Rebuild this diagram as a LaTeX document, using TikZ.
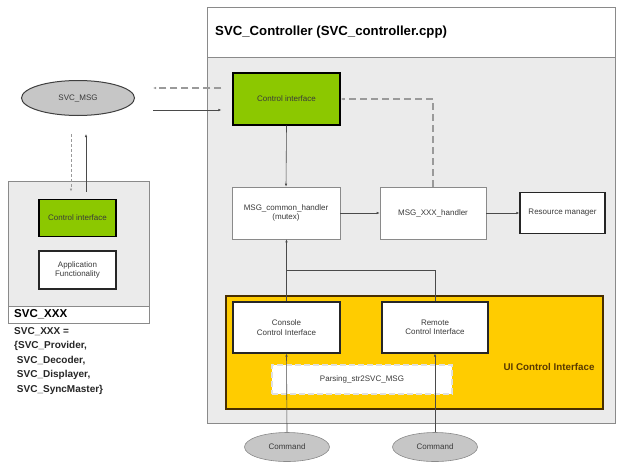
\documentclass[tikz,border=0pt]{standalone}
\usepackage{fontspec}
\setmainfont{Liberation Sans}
\usetikzlibrary{shapes.geometric,arrows.meta}
\definecolor{bodygray}{HTML}{EBEBEB}
\definecolor{framegray}{HTML}{8A8A8A}
\definecolor{cigreen}{HTML}{8CC800}
\definecolor{uiyellow}{HTML}{FFCC00}
\definecolor{ellgray}{HTML}{C6C6C6}
\definecolor{linegray}{HTML}{4A4A4A}
\definecolor{dashgray}{HTML}{9A9A9A}
\definecolor{brownish}{HTML}{5A3A00}
\definecolor{txtgray}{HTML}{3A3A3A}
\tikzset{
  smalltxt/.style={font=\fontsize{8}{9.5}\selectfont, text=txtgray, align=center},
  greenbox/.style={rectangle, draw=black, line width=1.2pt, fill=cigreen, smalltxt, inner sep=0pt},
  thickbox/.style={rectangle, draw=black!85, line width=1.2pt, fill=white, smalltxt, inner sep=0pt},
  thinbox/.style={rectangle, draw=framegray, line width=0.6pt, fill=white, smalltxt, inner sep=0pt},
  cmdell/.style={ellipse, draw=framegray, line width=0.6pt, fill=ellgray, smalltxt, inner sep=0pt},
  conn/.style={draw=linegray, line width=0.6pt, -{Latex[length=3pt,width=2.5pt]}},
  plainconn/.style={draw=linegray, line width=0.6pt},
  dashconn/.style={draw=dashgray, line width=1.1pt, dash pattern=on 7pt off 4pt, -{Latex[length=3pt,width=2.5pt]}},
}
\begin{document}
\begin{tikzpicture}[x=1pt,y=-1pt]
\useasboundingbox (0,0) rectangle (617,466);
\fill[white] (0,0) rectangle (617,466);
% controller frame
\node[rectangle, draw=framegray, line width=0.8pt, fill=bodygray, minimum width=408pt, minimum height=416pt, inner sep=0pt] (ctrl) at (411,215) {};
\node[rectangle, draw=framegray, line width=0.8pt, fill=white, minimum width=408pt, minimum height=50pt, inner sep=0pt] (ctrlhead) at (411,32) {};
\node[anchor=west, font=\bfseries\fontsize{13.2}{15}\selectfont, inner sep=0pt] (title) at (215,32) {SVC\_Controller (SVC\_controller.cpp)};
% SVC_MSG
\node[ellipse, draw=black!75, line width=1pt, fill=ellgray, minimum width=113pt, minimum height=35pt, smalltxt, inner sep=0pt] (msg) at (78,98) {SVC\_MSG};
% SVC_XXX box
\node[rectangle, draw=framegray, line width=0.8pt, fill=bodygray, minimum width=141pt, minimum height=142pt, inner sep=0pt] (xxx) at (78.5,252) {};
\node[rectangle, draw=framegray, line width=0.8pt, fill=white, minimum width=141pt, minimum height=17pt, inner sep=0pt] (xxxstrip) at (78.5,314.5) {};
\node[anchor=west, font=\bfseries\fontsize{11.5}{12}\selectfont, inner sep=0pt] (xxxlabel) at (14,314.5) {SVC\_XXX};
\node[greenbox, minimum width=77pt, minimum height=37pt] (ci2) at (77.5,218) {Control interface};
\node[thickbox, minimum width=77pt, minimum height=38pt] (app) at (77.5,270) {Application\\Functionality};
\node[anchor=north west, align=left, font=\bfseries\fontsize{10}{14.6}\selectfont, text=black!85, inner sep=0pt] (xxxdef) at (14,327)
  {SVC\_XXX =\\\{SVC\_Provider,\\\ SVC\_Decoder,\\\ SVC\_Displayer,\\\ SVC\_SyncMaster\}};
% controller internals
\node[greenbox, minimum width=107pt, minimum height=52pt] (ci) at (286.5,99) {Control interface};
\node[thinbox, minimum width=108pt, minimum height=52pt] (common) at (286,213) {MSG\_common\_handler\\(mutex)};
\node[thinbox, minimum width=106pt, minimum height=52pt] (xxxh) at (433,213) {MSG\_XXX\_handler};
\node[thickbox, minimum width=85pt, minimum height=41pt] (res) at (562.5,213) {Resource manager};
% UI control interface
\node[rectangle, draw=brownish!80!black, line width=1.3pt, fill=uiyellow, minimum width=377pt, minimum height=113pt, inner sep=0pt] (ui) at (414.5,352.5) {};
\node[thickbox, minimum width=107pt, minimum height=51pt] (console) at (286.5,327.5) {Console\\Control Interface};
\node[thickbox, minimum width=106pt, minimum height=51pt] (remote) at (435,327.5) {Remote\\Control Interface};
\node[rectangle, draw=black!12, line width=1.4pt, dash pattern=on 6pt off 3pt, fill=white, minimum width=180pt, minimum height=29pt, smalltxt, inner sep=0pt] (parsing) at (362,379.5) {Parsing\_str2SVC\_MSG};
\node[font=\bfseries\fontsize{9.8}{11}\selectfont, text=brownish, inner sep=0pt] (uilabel) at (549,367) {UI Control Interface};
% commands
\node[cmdell, minimum width=85pt, minimum height=29pt] (cmd1) at (287,447) {Command};
\node[cmdell, minimum width=85pt, minimum height=29pt] (cmd2) at (435,447) {Command};
\coordinate (join) at (286.5,270);
% connectors
\draw[dashconn] ([xshift=-11pt,yshift=11pt]ci.west) -- ([xshift=18pt,yshift=10pt]msg.east);
\draw[conn] ([xshift=18pt,yshift=-12pt]msg.east) -- ([xshift=-11pt,yshift=-11pt]ci.west);
\draw[dashconn, dash pattern=on 3pt off 2pt, line width=0.9pt] ([xshift=-7pt,yshift=-18pt]msg.south) -- ([xshift=-7.5pt,yshift=-11pt]xxx.north);
\draw[conn] ([xshift=7.5pt,yshift=-11pt]xxx.north) -- ([xshift=8pt,yshift=-18pt]msg.south);
\draw[conn] (ci.south) -- (common.north);
\draw[conn] (common.east) -- (xxxh.west);
\draw[conn] (xxxh.east) -- (res.west);
\draw[dashconn] (xxxh.north) |- (ci.east);
\draw[conn] (console.north) -- (console.north |- common.south);
\draw[plainconn] (remote.north) |- (join);
\draw[conn] (cmd1.north) -- (console.south);
\draw[conn] (cmd2.north) -- (remote.south);
\end{tikzpicture}
\end{document}
